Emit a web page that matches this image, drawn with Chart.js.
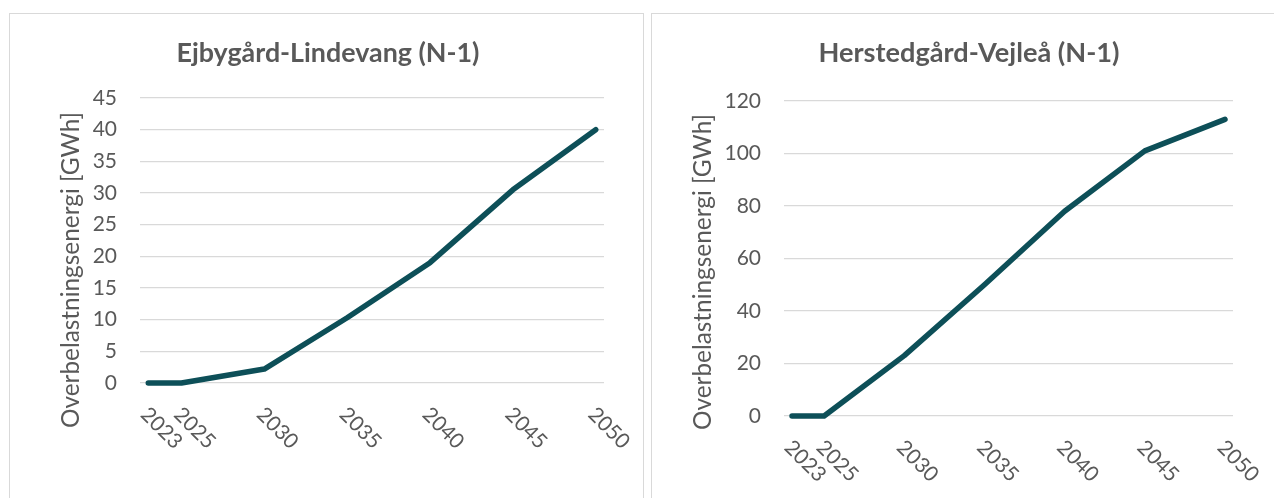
<!DOCTYPE html>
<html>
<head>
<meta charset="utf-8">
<script src="https://cdn.jsdelivr.net/npm/chart.js@4.4.1/dist/chart.umd.min.js"></script>
<style>
  html, body { margin: 0; padding: 0; background: #ffffff; overflow: hidden; width: 1274px; height: 498px; }
  .panel { position: absolute; border: 1px solid #d9d9d9; border-bottom: none; background: #ffffff; }
  #p1 { left: 9px; top: 13px; width: 633px; height: 490px; }
  #p2 { left: 651px; top: 13px; width: 635px; height: 490px; }
  canvas { display: block; }
</style>
</head>
<body>
<div class="panel" id="p1"><canvas id="c1" width="633" height="484"></canvas></div>
<div class="panel" id="p2"><canvas id="c2" width="635" height="484"></canvas></div>
<script>
// ---- data ----
const years = [2023, 2025, 2030, 2035, 2040, 2045, 2050];
const yearLabels = ['2023', '2025', '2030', '2035', '2040', '2045', '2050'];
const ejbygaardValues = [0, 0, 2.2, 10.3, 19, 30.5, 40];
const herstedgaardValues = [0, 0, 23, 50, 78, 101, 113];
const ejbygaardTitle = 'Ejbygård-Lindevang (N-1)';
const herstedgaardTitle = 'Herstedgård-Vejleå (N-1)';
const yAxisTitle = 'Overbelastningsenergi [GWh]';
const ejbygaardYMax = 45, ejbygaardYStep = 5;
const herstedgaardYMax = 120, herstedgaardYStep = 20;

const TEXT = '#595959';
const LINE = '#0d4f58';
const GRID = '#d9d9d9';
const FONT = 'Lato, "Open Sans", "Liberation Sans", sans-serif';

const decor = {
  id: 'decor',
  afterDraw(chart, args, o) {
    const ctx = chart.ctx, xs = chart.scales.x, ca = chart.chartArea;
    ctx.save();
    ctx.fillStyle = TEXT;
    // chart title
    let size = 28;
    ctx.font = 'bold ' + size + 'px ' + FONT;
    size = size * o.titleWidth / ctx.measureText(o.title).width;
    ctx.font = 'bold ' + size.toFixed(2) + 'px ' + FONT;
    ctx.textAlign = 'center';
    ctx.textBaseline = 'alphabetic';
    ctx.fillText(o.title, o.titleCx, o.titleBase);
    // y axis title
    size = 22;
    ctx.font = size + 'px ' + FONT;
    size = size * o.yTitleLen / ctx.measureText(o.yTitle).width;
    ctx.font = size.toFixed(2) + 'px ' + FONT;
    ctx.save();
    ctx.translate(o.yTitleCx, o.yTitleCy);
    ctx.rotate(-Math.PI / 2);
    ctx.textAlign = 'center';
    ctx.textBaseline = 'middle';
    ctx.fillText(o.yTitle, 0, 0);
    ctx.restore();
    // x tick labels, rotated clockwise 45deg
    ctx.font = '21px ' + FONT;
    o.labels.forEach((lab, i) => {
      const x = xs.getPixelForValue(o.ticks[i]);
      ctx.save();
      ctx.translate(x - 4, ca.bottom + 28);
      ctx.rotate(Math.PI / 4);
      ctx.textAlign = 'left';
      ctx.textBaseline = 'middle';
      ctx.fillText(lab, 0, 0);
      ctx.restore();
    });
    ctx.restore();
  }
};

function makeChart(id, title, values, yMax, yStep, g) {
  const data = years.map((y, i) => ({ x: y, y: values[i] }));
  return new Chart(document.getElementById(id), {
    type: 'line',
    data: { datasets: [{
      data: data,
      borderColor: LINE,
      borderWidth: 5.5,
      pointRadius: 0,
      pointHoverRadius: 0,
      tension: 0,
      borderCapStyle: 'round',
      borderJoinStyle: 'round',
      fill: false,
      clip: false
    }]},
    options: {
      responsive: false,
      animation: false,
      events: [],
      layout: { padding: { left: 0, top: g.top, right: g.right, bottom: g.bottom } },
      plugins: {
        legend: { display: false },
        tooltip: { enabled: false },
        title: { display: false },
        decor: {
          title: title, titleWidth: g.titleWidth, titleCx: g.titleCx, titleBase: g.titleBase,
          yTitle: yAxisTitle, yTitleLen: 316, yTitleCx: g.yTitleCx, yTitleCy: g.yTitleCy,
          labels: yearLabels, ticks: years
        }
      },
      scales: {
        x: {
          type: 'linear', min: 2022.5, max: 2050.5, display: false
        },
        y: {
          min: 0, max: yMax,
          ticks: { stepSize: yStep, color: TEXT, padding: 23, font: { family: FONT, size: 21 } },
          grid: { color: GRID, lineWidth: 1.3, drawTicks: false },
          border: { display: false },
          afterFit: (s) => { s.width = g.left; }
        }
      }
    },
    plugins: [decor]
  });
}

function build() {
  makeChart('c1', ejbygaardTitle, ejbygaardValues, ejbygaardYMax, ejbygaardYStep, {
    left: 130, right: 39, top: 84, bottom: 115,
    titleWidth: 303, titleCx: 318, titleBase: 48,
    yTitleCx: 61, yTitleCy: 256
  });
  makeChart('c2', herstedgaardTitle, herstedgaardValues, herstedgaardYMax, herstedgaardYStep, {
    left: 132, right: 54, top: 87, bottom: 82,
    titleWidth: 301, titleCx: 317, titleBase: 48,
    yTitleCx: 51, yTitleCy: 258
  });
}

if (document.fonts && document.fonts.load) {
  Promise.all([
    document.fonts.load('21px Lato'),
    document.fonts.load('bold 28px Lato')
  ]).then(build, build);
} else {
  build();
}
</script>
</body>
</html>
